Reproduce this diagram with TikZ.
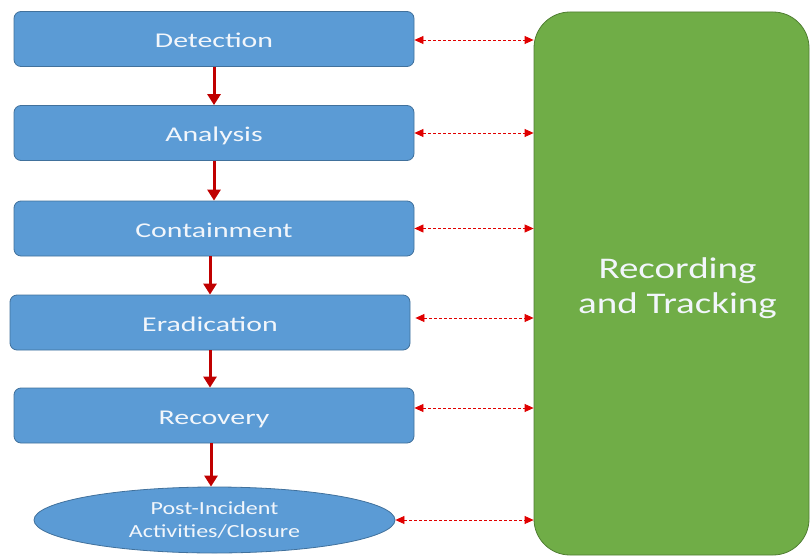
\documentclass[tikz,border=0pt]{standalone}
\usepackage{fontspec}
\usetikzlibrary{arrows.meta,shapes.geometric}
\newfontfamily\boxfont[FakeStretch=1.42]{Carlito}
\newfontfamily\ellfont[FakeStretch=1.3]{Carlito}
\newfontfamily\bigfont[FakeStretch=1.3]{Carlito}
\definecolor{boxblue}{HTML}{5B9BD5}
\definecolor{boxblueline}{HTML}{41719C}
\definecolor{boxgreen}{HTML}{70AD47}
\definecolor{boxgreenline}{HTML}{507E32}
\definecolor{arrowred}{HTML}{C00000}
\definecolor{dashred}{HTML}{E00000}
\definecolor{txtwhite}{HTML}{F2F6FB}
\begin{document}
\begin{tikzpicture}[x=1pt,y=-1pt,
  stepbox/.style={draw=boxblueline, fill=boxblue, line width=0.8pt, rounded corners=7pt,
    minimum width=400pt, minimum height=55pt, inner sep=0pt, text height=18pt, text depth=0pt,
    text=txtwhite, font=\boxfont\fontsize{21}{25}\selectfont},
  closebox/.style={ellipse, draw=boxblueline, fill=boxblue, line width=0.8pt,
    minimum width=361pt, minimum height=66pt, inner sep=0pt, align=center,
    text=txtwhite, font=\ellfont\fontsize{18.5}{23}\selectfont},
  trackbox/.style={draw=boxgreenline, fill=boxgreen, line width=0.8pt, rounded corners=36pt,
    minimum width=275pt, minimum height=543pt, inner sep=0pt},
  tracktext/.style={align=center, inner sep=0pt, text=txtwhite,
    font=\bigfont\fontsize{30}{35}\selectfont},
  flow/.style={draw=arrowred, line width=3pt, -{Triangle[length=11pt,width=13pt]}},
  link/.style={draw=dashred, line width=0.8pt, dash pattern=on 3pt off 2pt,
    {Triangle[length=9pt,width=8pt]}-{Triangle[length=9pt,width=8pt]}}
]
\useasboundingbox (0,0) rectangle (810,556);
\node[stepbox] (det) at (214,39) {Detection};
\node[stepbox] (ana) at (214,133) {Analysis};
\node[stepbox] (con) at (214,228.5) {Containment};
\node[stepbox] (era) at (210,322.5) {Eradication};
\node[stepbox] (rec) at (214,415.5) {Recovery};
\node[closebox] (post) at (214.5,520) {Post-Incident\\Activities/Closure};
\node[trackbox, label={[tracktext, xshift=6pt, yshift=-5pt]center:Recording\\and Tracking}] (trk) at (671.5,283.5) {};

\draw[flow] (det.south) -- (ana.north);
\draw[flow] (ana.south) -- (con.north);
\draw[flow] (con.south -| era.north) -- (era.north);
\draw[flow] (era.south) -- (era.south |- rec.north);
\draw[flow] (rec.south -| 211,0) -- (post.north -| 211,0);

\draw[link] ([yshift=-1pt]det.east) -- ([yshift=-1pt]det.east -| trk.west);
\draw[link] (ana.east) -- (ana.east -| trk.west);
\draw[link] (con.east) -- (con.east -| trk.west);
\draw[link] ([xshift=5pt,yshift=4.5pt]era.east) -- ([yshift=4.5pt]era.east -| trk.west);
\draw[link] ([yshift=7.5pt]rec.east) -- ([yshift=7.5pt]rec.east -| trk.west);
\draw[link] (post.east) -- (post.east -| trk.west);
\end{tikzpicture}
\end{document}
